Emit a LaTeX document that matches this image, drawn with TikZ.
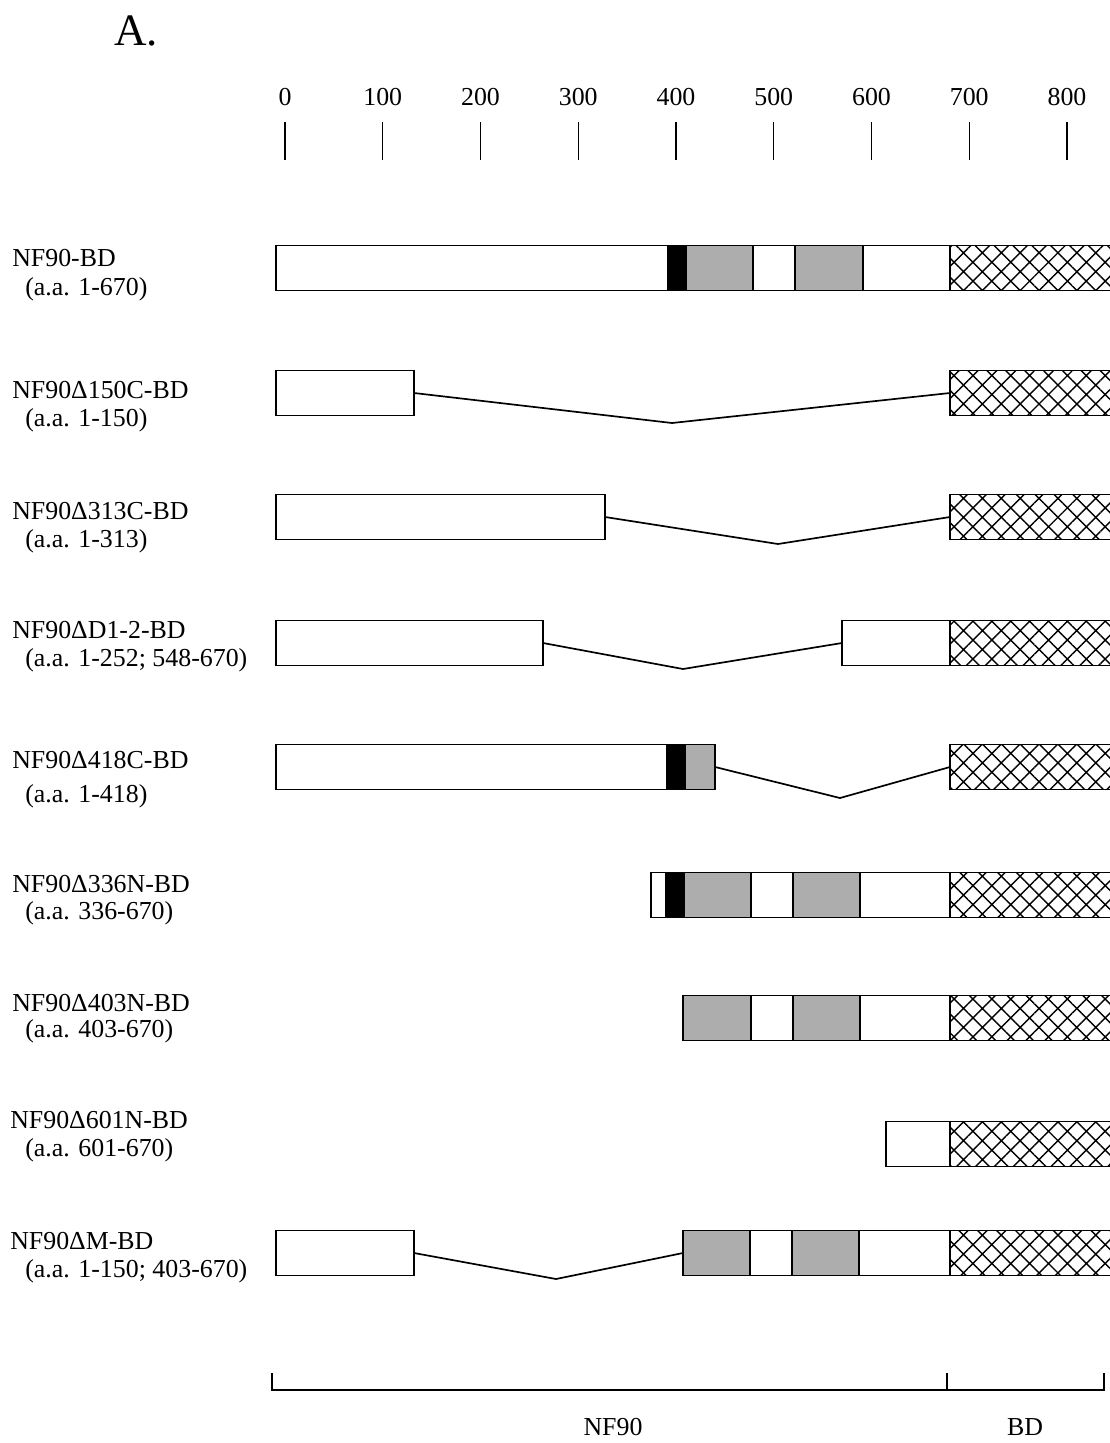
\documentclass[tikz,border=0pt]{standalone}
\usepackage{fontspec}
\setmainfont{Liberation Serif}
\usetikzlibrary{positioning,patterns.meta}

\tikzset{
  seg/.style={draw,line width=1.2pt,inner sep=0pt,outer sep=0pt,minimum height=1.125cm,anchor=west},
  blank/.style={seg,fill=white},
  dark/.style={seg,fill=black},
  stip/.style={seg,fill=black!32},
  bdom/.style={seg,minimum width=4.05cm,pattern={Hatch[angle=45,distance=9.5pt,line width=1pt]}},
  del/.style={line width=1.2pt},
  lab/.style={anchor=west,inner sep=0pt,font=\fontsize{18.4}{22}\selectfont},
}

\begin{document}
\begin{tikzpicture}[x=0.025cm,y=-0.025cm]
  \useasboundingbox (0,0) rectangle (1110,1443);
  \node[font=\fontsize{32}{36}\selectfont] (ttl) at (136,31) {A.};

  % scale in a.a.
  \foreach \v [count=\i from 0] in {0,100,...,800} {
    \node[lab,anchor=center] (t\i) at (285+97.75*\i,97) {\v};
    \draw[line width=1pt] (285+97.75*\i,122) -- (285+97.75*\i,160);
  }

  % labels
  \node[lab] (n1) at (12,258) {NF90-BD};
  \node[lab] (a1) at (25,289) {(a.a. 1-670)};
  \node[lab] (n2) at (12,390) {NF90Δ150C-BD};
  \node[lab] (a2) at (25,420) {(a.a. 1-150)};
  \node[lab] (n3) at (12,511) {NF90Δ313C-BD};
  \node[lab] (a3) at (25,541) {(a.a. 1-313)};
  \node[lab] (n4) at (12,630) {NF90ΔD1-2-BD};
  \node[lab] (a4) at (25,660) {(a.a. 1-252; 548-670)};
  \node[lab] (n5) at (12,760) {NF90Δ418C-BD};
  \node[lab] (a5) at (25,796) {(a.a. 1-418)};
  \node[lab] (n6) at (12,884) {NF90Δ336N-BD};
  \node[lab] (a6) at (25,913) {(a.a. 336-670)};
  \node[lab] (n7) at (12,1003) {NF90Δ403N-BD};
  \node[lab] (a7) at (25,1031) {(a.a. 403-670)};
  \node[lab] (n8) at (10,1120) {NF90Δ601N-BD};
  \node[lab] (a8) at (25,1150) {(a.a. 601-670)};
  \node[lab] (n9) at (10,1241) {NF90ΔM-BD};
  \node[lab] (a9) at (25,1271) {(a.a. 1-150; 403-670)};

  % NF90-BD
  \node[blank,minimum width=9.8cm] (w1) at (276,268) {};
  \node[dark,minimum width=.45cm,right=0pt of w1] (k1) {};
  \node[stip,minimum width=1.675cm,right=0pt of k1] (g1) {};
  \node[blank,minimum width=1.05cm,right=0pt of g1] (v1) {};
  \node[stip,minimum width=1.7cm,right=0pt of v1] (h1) {};
  \node[blank,minimum width=2.175cm,right=0pt of h1] (u1) {};
  \node[bdom,right=0pt of u1] (bd1) {};

  % delta 150C
  \node[blank,minimum width=3.45cm] (w2) at (276,393) {};
  \node[bdom] (bd2) at (950,393) {};
  \coordinate (d2) at (672,423);
  \draw[del] (w2.east) -- (d2) -- (bd2.west);

  % delta 313C
  \node[blank,minimum width=8.225cm] (w3) at (276,517) {};
  \node[bdom] (bd3) at (950,517) {};
  \coordinate (d3) at (778,544);
  \draw[del] (w3.east) -- (d3) -- (bd3.west);

  % delta D1-2
  \node[blank,minimum width=6.675cm] (w4) at (276,643) {};
  \node[blank,minimum width=2.7cm] (x4) at (842,643) {};
  \node[bdom,right=0pt of x4] (bd4) {};
  \coordinate (d4) at (683,669);
  \draw[del] (w4.east) -- (d4) -- (x4.west);

  % delta 418C
  \node[blank,minimum width=9.775cm] (w5) at (276,767) {};
  \node[dark,minimum width=.45cm,right=0pt of w5] (k5) {};
  \node[stip,minimum width=.75cm,right=0pt of k5] (g5) {};
  \node[bdom] (bd5) at (950,767) {};
  \coordinate (d5) at (840,798);
  \draw[del] (g5.east) -- (d5) -- (bd5.west);

  % delta 336N
  \node[blank,minimum width=.375cm] (w6) at (651,895) {};
  \node[dark,minimum width=.45cm,right=0pt of w6] (k6) {};
  \node[stip,minimum width=1.675cm,right=0pt of k6] (g6) {};
  \node[blank,minimum width=1.05cm,right=0pt of g6] (v6) {};
  \node[stip,minimum width=1.675cm,right=0pt of v6] (h6) {};
  \node[blank,minimum width=2.25cm,right=0pt of h6] (u6) {};
  \node[bdom,right=0pt of u6] (bd6) {};

  % delta 403N
  \node[stip,minimum width=1.7cm] (g7) at (683,1018) {};
  \node[blank,minimum width=1.05cm,right=0pt of g7] (v7) {};
  \node[stip,minimum width=1.675cm,right=0pt of v7] (h7) {};
  \node[blank,minimum width=2.25cm,right=0pt of h7] (u7) {};
  \node[bdom,right=0pt of u7] (bd7) {};

  % delta 601N
  \node[blank,minimum width=1.6cm] (w8) at (886,1144) {};
  \node[bdom,right=0pt of w8] (bd8) {};

  % delta M
  \node[blank,minimum width=3.45cm] (w9) at (276,1253) {};
  \node[stip,minimum width=1.675cm] (g9) at (683,1253) {};
  \node[blank,minimum width=1.05cm,right=0pt of g9] (v9) {};
  \node[stip,minimum width=1.675cm,right=0pt of v9] (h9) {};
  \node[blank,minimum width=2.275cm,right=0pt of h9] (u9) {};
  \node[bdom,right=0pt of u9] (bd9) {};
  \coordinate (d9) at (556,1279);
  \draw[del] (w9.east) -- (d9) -- (g9.west);

  % NF90 / BD bracket
  \draw[line width=1pt] (272,1373) -- (272,1390) -- (1104,1390) -- (1104,1373);
  \draw[line width=1pt] (947,1373) -- (947,1390);
  \node[lab,anchor=center] (nf) at (613,1427) {NF90};
  \node[lab,anchor=center] (bdl) at (1025,1427) {BD};
\end{tikzpicture}
\end{document}
